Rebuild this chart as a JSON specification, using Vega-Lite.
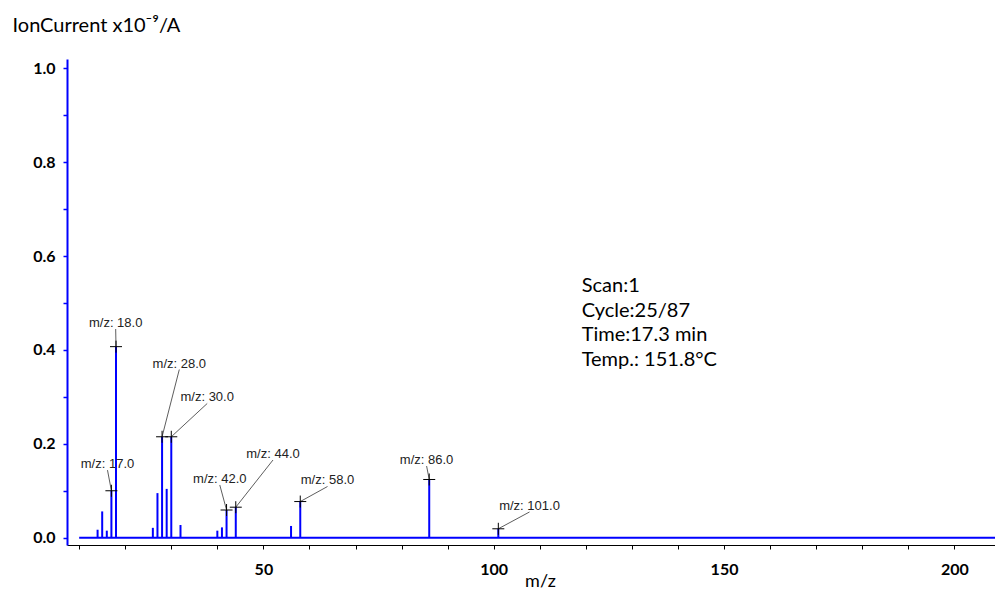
{
  "$schema": "https://vega.github.io/schema/vega-lite/v6.json",
  "width": 928,
  "height": 486,
  "autosize": {"type": "none"},
  "padding": {"left": 67, "top": 59, "right": 0, "bottom": 45},
  "background": "white",
  "config": {
    "view": {"stroke": null},
    "axis": {"grid": false, "labelFont": "Lato", "titleFont": "Lato", "labelColor": "#000000", "titleColor": "#000000"}
  },
  "datasets": {
    "baseline": [{"mz": 10, "mzEnd": 209, "level": 0}],
    "peaks": [
      {"mz": 14, "level": 0.017},
      {"mz": 15, "level": 0.056},
      {"mz": 16, "level": 0.015},
      {"mz": 17, "level": 0.100},
      {"mz": 18, "level": 0.407},
      {"mz": 26, "level": 0.021},
      {"mz": 27, "level": 0.095},
      {"mz": 28, "level": 0.215},
      {"mz": 29, "level": 0.104},
      {"mz": 30, "level": 0.215},
      {"mz": 32, "level": 0.027},
      {"mz": 40, "level": 0.015},
      {"mz": 41, "level": 0.022},
      {"mz": 42, "level": 0.059},
      {"mz": 44, "level": 0.065},
      {"mz": 56, "level": 0.025},
      {"mz": 58, "level": 0.077},
      {"mz": 86, "level": 0.124},
      {"mz": 101, "level": 0.019}
    ],
    "notes": [
      {"text": "m/z: 17.0", "mz": 16.15, "level": 0.144, "peakMz": 17, "peakLevel": 0.100},
      {"text": "m/z: 18.0", "mz": 17.93, "level": 0.4446, "peakMz": 18, "peakLevel": 0.407},
      {"text": "m/z: 28.0", "mz": 31.74, "level": 0.3583, "peakMz": 28, "peakLevel": 0.215},
      {"text": "m/z: 30.0", "mz": 37.80, "level": 0.2859, "peakMz": 30, "peakLevel": 0.215},
      {"text": "m/z: 42.0", "mz": 40.53, "level": 0.1123, "peakMz": 42, "peakLevel": 0.059},
      {"text": "m/z: 44.0", "mz": 52.08, "level": 0.1655, "peakMz": 44, "peakLevel": 0.065},
      {"text": "m/z: 58.0", "mz": 63.92, "level": 0.1091, "peakMz": 58, "peakLevel": 0.077},
      {"text": "m/z: 86.0", "mz": 85.43, "level": 0.1527, "peakMz": 86, "peakLevel": 0.124},
      {"text": "m/z: 101.0", "mz": 107.77, "level": 0.0548, "peakMz": 101, "peakLevel": 0.019}
    ],
    "info": [
      {"text": "Scan:1", "mz": 119.1, "level": 0.5234},
      {"text": "Cycle:25/87", "mz": 119.1, "level": 0.4711},
      {"text": "Time:17.3 min", "mz": 119.1, "level": 0.4187},
      {"text": "Temp.: 151.8°C", "mz": 119.1, "level": 0.3664}
    ]
  },
  "layer": [
    {
      "data": {"name": "peaks"},
      "mark": {"type": "rule", "color": "#0000ff", "strokeWidth": 2},
      "encoding": {
        "x": {
          "field": "mz", "type": "quantitative",
          "scale": {"domain": [7.36, 208.83], "nice": false, "zero": false},
          "axis": {
            "title": "m/z",
            "values": [10, 20, 30, 40, 50, 60, 70, 80, 90, 100, 110, 120, 130, 140, 150, 160, 170, 180, 190, 200],
            "labelExpr": "datum.value % 50 == 0 ? format(datum.value, 'd') : ''",
            "domainColor": "#000000", "domainWidth": 1,
            "tickColor": "#000000", "tickSize": 4, "tickWidth": 1,
            "labelFontSize": 16, "labelFontWeight": "bold", "labelPadding": 12,
            "titleFontSize": 18, "titleFontWeight": "normal",
            "titleX": 473, "titleY": 41, "titleAlign": "center", "titleBaseline": "alphabetic"
          }
        },
        "y": {
          "field": "level", "type": "quantitative",
          "scale": {"domain": [-0.01555, 1.0198], "nice": false, "zero": false},
          "axis": {
            "title": "IonCurrent x10⁻⁹/A",
            "values": [0, 0.1, 0.2, 0.3, 0.4, 0.5, 0.6, 0.7, 0.8, 0.9, 1.0],
            "labelExpr": "round(datum.value * 10) % 2 == 0 ? format(datum.value, '.1f') : ''",
            "domainColor": "#0000ff", "domainWidth": 2,
            "tickColor": "#0000ff", "tickSize": 4, "tickWidth": 1.5,
            "labelFontSize": 16, "labelFontWeight": "bold", "labelPadding": 8,
            "titleFontSize": 20, "titleFontWeight": "normal", "titleAngle": 0,
            "titleX": -55, "titleY": -28, "titleAlign": "left", "titleBaseline": "alphabetic"
          }
        },
        "y2": {"datum": 0}
      }
    },
    {
      "data": {"name": "baseline"},
      "mark": {"type": "rule", "color": "#0000ff", "strokeWidth": 2, "clip": true},
      "encoding": {
        "x": {"field": "mz", "type": "quantitative"},
        "x2": {"field": "mzEnd"},
        "y": {"field": "level", "type": "quantitative"}
      }
    },
    {
      "data": {"name": "notes"},
      "mark": {"type": "rule", "color": "#333333", "strokeWidth": 0.8},
      "encoding": {
        "x": {"field": "mz", "type": "quantitative"},
        "y": {"field": "level", "type": "quantitative"},
        "x2": {"field": "peakMz"},
        "y2": {"field": "peakLevel"}
      }
    },
    {
      "data": {"name": "notes"},
      "mark": {"type": "point", "shape": "M-1,0H1M0,-1V1", "size": 144, "filled": false, "stroke": "#000000", "strokeWidth": 1, "opacity": 1},
      "encoding": {
        "x": {"field": "peakMz", "type": "quantitative"},
        "y": {"field": "peakLevel", "type": "quantitative"}
      }
    },
    {
      "data": {"name": "notes"},
      "mark": {"type": "text", "font": "Liberation Sans", "fontSize": 13, "color": "#222222", "align": "center", "baseline": "alphabetic", "dy": -2},
      "encoding": {
        "x": {"field": "mz", "type": "quantitative"},
        "y": {"field": "level", "type": "quantitative"},
        "text": {"field": "text"}
      }
    },
    {
      "data": {"name": "info"},
      "mark": {"type": "text", "font": "Lato", "fontSize": 20, "color": "#000000", "align": "left", "baseline": "alphabetic"},
      "encoding": {
        "x": {"field": "mz", "type": "quantitative"},
        "y": {"field": "level", "type": "quantitative"},
        "text": {"field": "text"}
      }
    }
  ]
}
